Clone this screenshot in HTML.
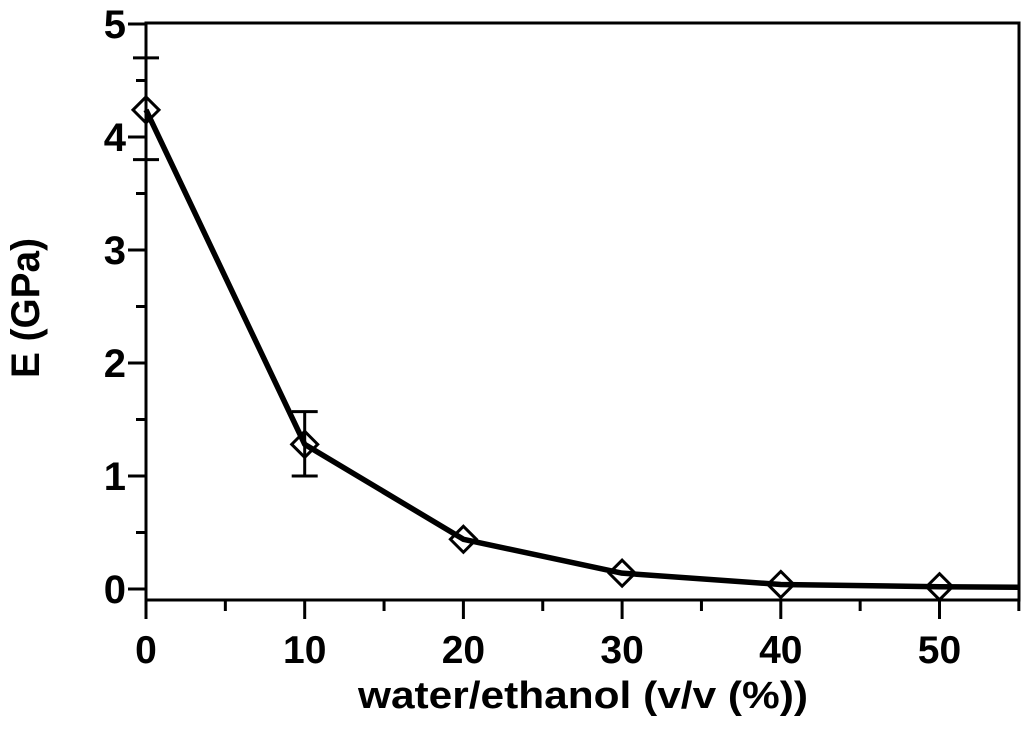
<!DOCTYPE html>
<html><head><meta charset="utf-8"><style>
html,body{margin:0;padding:0;background:#fff;}
svg{display:block;font-family:"Liberation Sans",Arial,sans-serif;font-weight:bold;}
</style></head><body>
<svg id="chart" width="1024" height="732" viewBox="0 0 1024 732">
<g id="axes"></g><g id="series"></g>
<text x="583" y="708" font-size="38" text-anchor="middle" textLength="450" lengthAdjust="spacingAndGlyphs">water/ethanol (v/v (%))</text>
<text transform="translate(39,308) rotate(-90)" font-size="40" text-anchor="middle" textLength="140" lengthAdjust="spacingAndGlyphs">E (GPa)</text>
</svg>
<script>
const xs = [0, 10, 20, 30, 40, 50];
const ys = [4.24, 1.28, 0.44, 0.14, 0.04, 0.02];
const errLow = [3.8, 1.0, null, null, null, null];
const errHigh = [4.7, 1.57, null, null, null, null];
const xTicks = [0, 10, 20, 30, 40, 50];
const yTicks = [0, 1, 2, 3, 4, 5];
const NS = "http://www.w3.org/2000/svg";
const X = v => 146 + v * 15.87;
const Y = v => 589 - v * 113;
function mk(tag, attrs, parent) {
  const e = document.createElementNS(NS, tag);
  for (const k in attrs) e.setAttribute(k, attrs[k]);
  parent.appendChild(e);
  return e;
}
const ax = document.getElementById('axes');
const frame = mk('rect', {x:146, y:23, width:873, height:577, fill:'none', stroke:'#000', 'stroke-width':3}, ax);


for (let v = 0; v <= 55; v += 5) {
  const major = v % 10 === 0;
  const t = mk('line', {x1:X(v), x2:X(v), y1:600, y2: major ? 619 : 611, stroke:'#000', 'stroke-width':3}, ax);
  
  
}
xTicks.forEach(v => {
  const t = mk('text', {x:X(v), y:663, 'font-size':39, 'text-anchor':'middle'}, ax);
  t.textContent = v;
  
  
});
for (let v = 0; v <= 5; v += 0.5) {
  const major = Math.abs(v % 1) < 1e-9;
  const t = mk('line', {x1: major ? 128 : 136, x2:146, y1:Y(v), y2:Y(v), stroke:'#000', 'stroke-width':3}, ax);
  
  
}
yTicks.forEach(v => {
  const t = mk('text', {x:126, y:Y(v) + 14, 'font-size':40, 'text-anchor':'end'}, ax);
  t.textContent = v;
  
  
});
const s = document.getElementById('series');
xs.forEach((x, i) => {
  if (errLow[i] == null) return;
  const g = mk('g', {stroke:'#000', 'stroke-width':3}, s);
  
  
  mk('line', {x1:X(x), x2:X(x), y1:Y(errLow[i]), y2:Y(errHigh[i])}, g);
  mk('line', {x1:X(x)-13, x2:X(x)+13, y1:Y(errLow[i]), y2:Y(errLow[i])}, g);
  mk('line', {x1:X(x)-13, x2:X(x)+13, y1:Y(errHigh[i]), y2:Y(errHigh[i])}, g);
});
const line = mk('polyline', {points: xs.map((x, i) => X(x) + ',' + Y(ys[i])).concat([X(55) + ',' + Y(0.015)]).join(' '), fill:'none', stroke:'#000', 'stroke-width':5.5, 'stroke-linejoin':'round'}, s);


xs.forEach((x, i) => {
  const cx = X(x), cy = Y(ys[i]), r = 13;
  const p = mk('polygon', {points: `${cx},${cy-r} ${cx+r},${cy} ${cx},${cy+r} ${cx-r},${cy}`, fill:'none', stroke:'#000', 'stroke-width':3}, s);
  
  
});
</script>
</body></html>
